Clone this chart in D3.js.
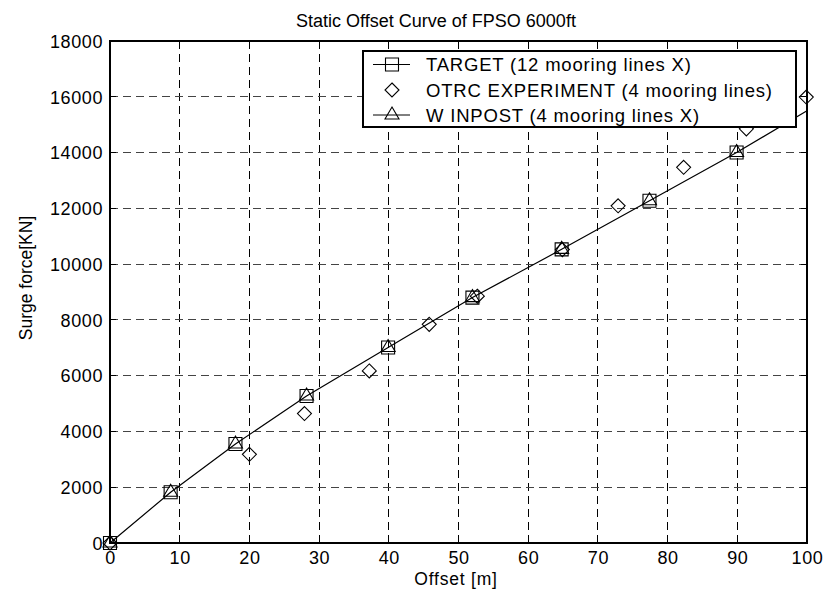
<!DOCTYPE html>
<html><head><meta charset="utf-8">
<script src="https://cdn.jsdelivr.net/npm/d3@7"></script>
<style>body{margin:0;background:#fff}svg{display:block;font-family:"Liberation Sans",Arial,sans-serif}</style>
</head><body>
<svg id="c" width="827" height="595"></svg>
<script>
const xTicks = [0,10,20,30,40,50,60,70,80,90,100];
const yTicks = [0,2000,4000,6000,8000,10000,12000,14000,16000,18000];
const targetX = [0,8.7,18,28.2,39.9,52,64.8,77.4,89.9];
const targetY = [0,1820,3550,5270,7010,8800,10530,12270,14000];
const winpostX = [0,8.7,18,28.2,39.9,52,64.8,77.4,89.9];
const winpostY = [0,1820,3550,5270,7010,8800,10530,12270,14000];
const curveX = [0,8.7,18,28.2,39.9,52,64.8,77.4,89.9,100];
const curveY = [0,1820,3550,5270,7010,8800,10530,12270,14000,15500];
const otrcX = [0,20,27.9,37.2,45.8,52.7,64.9,72.9,82.3,91.3,99.9];
const otrcY = [0,3180,4640,6170,7840,8850,10520,12090,13470,14850,15990];
const legendLabels = ["TARGET (12 mooring lines X)","OTRC EXPERIMENT (4 mooring lines)","W INPOST (4 mooring lines X)"];

const svg = d3.select("#c");
const L=110,R=807,T=41,B=543;
const x = d3.scaleLinear().domain([0,100]).range([L,R]);
const y = d3.scaleLinear().domain([0,18000]).range([B,T]);

// grid
const g = svg.append("g");
g.selectAll(".vg").data(xTicks.slice(1,-1)).join("line")
 .attr("x1",d=>x(d)).attr("x2",d=>x(d)).attr("y1",T).attr("y2",B)
 .attr("stroke","#000").attr("stroke-width",1).attr("stroke-dasharray","8,5").attr("shape-rendering","crispEdges");
g.selectAll(".hg").data(yTicks.slice(1,-1)).join("line")
 .attr("x1",L).attr("x2",R).attr("y1",d=>y(d)).attr("y2",d=>y(d))
 .attr("stroke","#444").attr("stroke-width",1).attr("stroke-dasharray","8,5").attr("shape-rendering","crispEdges");

// axes
const ax = svg.append("g").attr("transform",`translate(0,${B})`)
 .call(d3.axisBottom(x).tickValues(xTicks).tickSize(0).tickPadding(8));
const ay = svg.append("g").attr("transform",`translate(${L},0)`)
 .call(d3.axisLeft(y).tickValues(yTicks).tickSize(0).tickPadding(7).tickFormat(d3.format("d")));
[ax,ay].forEach(a=>{a.select(".domain").remove();a.selectAll("text").attr("font-size",18).attr("letter-spacing",0.6).attr("fill","#000").attr("font-family","Liberation Sans, Arial, sans-serif");});
ay.selectAll("text").attr("dy","0.35em");

// inner ticks
const tk = svg.append("g").attr("stroke","#000").attr("shape-rendering","crispEdges");
xTicks.forEach(d=>{tk.append("line").attr("x1",x(d)).attr("x2",x(d)).attr("y1",B).attr("y2",B-6);
 tk.append("line").attr("x1",x(d)).attr("x2",x(d)).attr("y1",T).attr("y2",T+6);});
yTicks.forEach(d=>{tk.append("line").attr("x1",L).attr("x2",L+6).attr("y1",y(d)).attr("y2",y(d));
 tk.append("line").attr("x1",R).attr("x2",R-6).attr("y1",y(d)).attr("y2",y(d));});
svg.append("rect").attr("x",L).attr("y",T).attr("width",R-L).attr("height",B-T)
 .attr("fill","none").attr("stroke","#000").attr("stroke-width",1.2).attr("shape-rendering","crispEdges");

// curve
const line = d3.line().x((d,i)=>x(curveX[i])).y((d,i)=>y(curveY[i]));
svg.append("path").attr("d",line(curveX)).attr("fill","none").attr("stroke","#000").attr("stroke-width",1.2);

const sq = d3.symbol().type(d3.symbolSquare).size(169)();
const tri = "M0,-8L7,4L-7,4Z";
const dia = "M0,-7L7,0L0,7L-7,0Z";
const mk = svg.append("g").attr("fill","none").attr("stroke","#000").attr("stroke-width",1.1);
targetX.forEach((d,i)=>mk.append("path").attr("d",sq).attr("transform",`translate(${x(d)},${y(targetY[i])})`));
winpostX.forEach((d,i)=>mk.append("path").attr("d",tri).attr("transform",`translate(${x(d)},${y(winpostY[i])})`));
otrcX.forEach((d,i)=>mk.append("path").attr("d",dia).attr("transform",`translate(${x(d)},${y(otrcY[i])})`));

// legend
const lg = svg.append("g");
lg.append("rect").attr("x",363).attr("y",51).attr("width",433).attr("height",76)
 .attr("fill","#fff").attr("stroke","#000").attr("stroke-width",1.3).attr("shape-rendering","crispEdges");
const rows=[64.5,90,115];
const legSym=[sq,dia,tri];
rows.forEach((ry,i)=>{
 if(i!==1) lg.append("line").attr("x1",373).attr("x2",410).attr("y1",ry).attr("y2",ry).attr("stroke","#000");
 lg.append("path").attr("d",legSym[i]).attr("transform",`translate(392,${ry})`).attr("fill","none").attr("stroke","#000").attr("stroke-width",1.1);
 lg.append("text").attr("x",426).attr("y",ry).attr("dy","0.36em").attr("font-size",18.5).attr("letter-spacing",0.8).text(legendLabels[i]);
});

// titles
svg.append("text").attr("x",436).attr("y",26.5).attr("text-anchor","middle").attr("font-size",18).text("Static Offset Curve of FPSO 6000ft");
svg.append("text").attr("x",456).attr("y",585).attr("text-anchor","middle").attr("font-size",17.5).attr("letter-spacing",0.8).text("Offset [m]");
svg.append("text").attr("transform","translate(32,278) rotate(-90)").attr("text-anchor","middle").attr("font-size",17.5).text("Surge force[KN]");
</script></body></html>
